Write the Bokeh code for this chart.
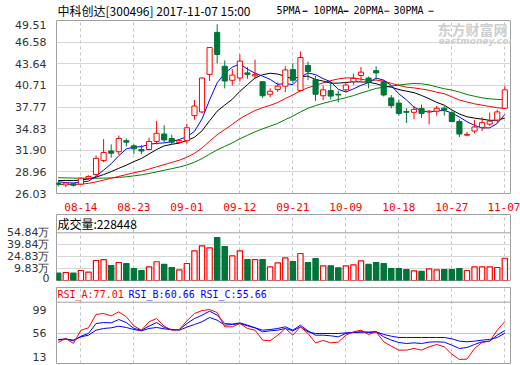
from bokeh.plotting import figure
from bokeh.layouts import column
from bokeh.models import FixedTicker, Label, Span, ColumnDataSource, Range1d
from bokeh.embed import file_html
from bokeh.resources import INLINE

dates = ["08-09", "08-10", "08-11", "08-14", "08-15", "08-16", "08-17", "08-18", "08-21", "08-22",
         "08-23", "08-24", "08-25", "08-28", "08-29", "08-30", "08-31", "09-01", "09-04", "09-05",
         "09-06", "09-07", "09-08", "09-11", "09-12", "09-13", "09-14", "09-15", "09-18", "09-19",
         "09-20", "09-21", "09-22", "09-25", "09-26", "09-27", "09-28", "09-29", "10-09", "10-10",
         "10-11", "10-12", "10-13", "10-16", "10-17", "10-18", "10-19", "10-20", "10-23", "10-24",
         "10-25", "10-26", "10-27", "10-30", "10-31", "11-01", "11-02", "11-03", "11-06", "11-07"]

opens = [27.45, 27.2, 27.35, 27.3, 28.1, 28.6, 30.5, 31.8, 31.7, 33.2,
         32.5, 32.0, 32.0, 33.1, 34.1, 33.5, 32.95, 33.2, 36.6, 37.1,
         42.2, 47.9, 43.3, 41.4, 41.7, 42.4, 42.0, 41.2, 39.5, 40.15,
         40.6, 42.85, 40.0, 43.4, 41.5, 39.3, 40.0, 39.5, 40.1, 41.2,
         42.05, 41.7, 42.7, 41.2, 39.0, 38.3, 37.15, 37.05, 37.55, 37.1,
         37.2, 37.6, 37.0, 35.8, 33.95, 34.5, 35.0, 35.45, 36.0, 37.6]
highs = [27.6, 27.6, 27.45, 28.2, 28.5, 31.2, 33.4, 32.7, 33.9, 33.5,
         32.7, 32.6, 33.6, 35.9, 35.3, 34.0, 33.3, 35.5, 38.7, 41.8,
         45.9, 49.0, 44.1, 42.9, 44.9, 43.2, 44.2, 41.3, 40.3, 41.1,
         43.3, 43.7, 45.3, 43.9, 42.0, 40.7, 41.2, 40.0, 41.2, 42.3,
         43.2, 41.9, 43.3, 41.4, 39.4, 38.8, 37.6, 37.9, 38.1, 37.35,
         37.9, 37.9, 37.2, 36.1, 34.4, 36.0, 36.4, 37.0, 37.4, 40.6]
lows = [27.0, 26.9, 26.95, 27.2, 27.9, 28.3, 30.3, 30.9, 31.3, 32.4,
        31.4, 31.4, 31.9, 32.7, 33.0, 32.6, 32.8, 32.8, 36.05, 36.9,
        41.3, 43.7, 40.3, 40.7, 41.2, 41.6, 41.6, 39.0, 39.1, 39.8,
        39.8, 41.0, 39.9, 41.4, 38.6, 38.7, 38.8, 38.4, 39.8, 40.8,
        41.3, 40.3, 41.5, 39.2, 37.6, 36.6, 35.6, 36.1, 36.3, 35.4,
        36.6, 36.6, 35.7, 33.7, 33.8, 34.2, 34.5, 35.2, 35.6, 37.5]
closes = [27.25, 27.45, 27.15, 28.1, 28.35, 30.8, 31.6, 31.5, 33.5, 33.0,
          32.1, 31.8, 33.1, 34.2, 33.3, 33.0, 33.2, 34.95, 37.9, 41.7,
          45.85, 44.9, 41.3, 42.1, 44.0, 42.2, 42.2, 39.3, 39.9, 40.6,
          42.8, 41.4, 44.5, 42.6, 39.5, 40.1, 39.25, 39.4, 40.75, 41.65,
          42.5, 41.15, 42.4, 39.4, 37.95, 36.9, 37.05, 37.45, 36.9, 37.2,
          37.6, 37.35, 35.8, 34.1, 34.05, 35.05, 35.65, 35.85, 37.1, 40.1]

ma5 = [27.64, 27.5, 27.46, 27.6, 27.7, 28.37, 29.2, 30.07, 31.15, 32.08,
       32.34, 32.38, 32.7, 32.84, 32.9, 33.08, 33.36, 33.73, 34.47, 36.15,
       38.72, 41.06, 42.33, 43.17, 43.63, 42.9, 42.36, 41.96, 41.52, 40.84,
       40.96, 40.8, 41.84, 42.38, 42.16, 41.62, 41.19, 40.17, 39.8, 40.23,
       40.71, 41.09, 41.69, 41.42, 40.68, 39.56, 38.74, 37.75, 37.25, 37.1,
       37.24, 37.3, 36.97, 36.41, 35.78, 35.27, 34.93, 34.94, 35.54, 36.75]
ma10 = [27.8, 27.8, 27.78, 27.85, 28.0, 28.25, 28.6, 29.0, 29.45, 29.87,
        30.36, 30.79, 31.39, 32.0, 32.49, 32.71, 32.87, 33.22, 33.66, 34.53,
        35.9, 37.21, 38.03, 38.82, 39.89, 40.81, 41.71, 42.15, 42.35, 42.24,
        41.93, 41.58, 41.9, 41.95, 41.5, 41.29, 41.0, 41.01, 41.09, 41.2,
        41.17, 41.14, 40.93, 40.61, 40.46, 40.14, 39.92, 39.72, 39.34, 38.89,
        38.4, 38.02, 37.36, 36.83, 36.44, 36.26, 36.12, 35.96, 35.98, 36.27]
ma20 = [27.25, 27.25, 27.25, 27.3, 27.4, 27.6, 27.85, 28.1, 28.35, 28.6,
        28.85, 29.05, 29.35, 29.65, 29.95, 30.25, 30.55, 30.95, 31.48, 32.2,
        33.13, 34.0, 34.71, 35.41, 36.19, 36.76, 37.29, 37.68, 38.0, 38.38,
        38.92, 39.4, 39.97, 40.39, 40.7, 41.05, 41.35, 41.58, 41.72, 41.72,
        41.55, 41.36, 41.42, 41.28, 40.98, 40.71, 40.46, 40.36, 40.21, 40.04,
        39.78, 39.58, 39.15, 38.72, 38.45, 38.2, 38.02, 37.84, 37.66, 37.58]
ma30 = [28.18, 28.15, 28.12, 28.1, 28.1, 28.1, 28.12, 28.15, 28.22, 28.3,
        28.42, 28.56, 28.74, 28.96, 29.18, 29.4, 29.62, 29.9, 30.27, 30.77,
        31.37, 31.95, 32.42, 32.9, 33.45, 33.93, 34.4, 34.8, 35.18, 35.54,
        36.06, 36.53, 37.1, 37.59, 37.96, 38.27, 38.53, 38.79, 39.03, 39.32,
        39.67, 39.98, 40.29, 40.46, 40.62, 40.75, 40.87, 40.96, 40.92, 40.77,
        40.5, 40.25, 40.06, 39.8, 39.47, 39.23, 39.01, 38.89, 38.8, 38.78]

volumes = [4.0, 4.9, 4.0, 7.4, 5.3, 20.0, 21.2, 13.7, 17.5, 16.2,
           9.9, 7.4, 12.1, 18.4, 15.0, 11.2, 8.3, 16.2, 32.2, 38.5,
           36.0, 48.9, 37.6, 25.9, 32.2, 21.2, 21.2, 21.2, 12.1, 17.1,
           23.4, 18.7, 28.8, 17.5, 22.5, 13.3, 13.3, 10.8, 13.3, 14.6,
           19.6, 15.0, 17.5, 16.2, 9.9, 9.9, 8.7, 7.0, 6.2, 9.5,
           8.3, 8.7, 8.7, 9.9, 7.4, 12.1, 12.1, 12.1, 11.2, 22.84]

rsi_a = [38.7, 46, 37, 61, 65.5, 90, 91.7, 87.4, 94.7, 85.6,
         69, 61.2, 76.5, 82.5, 68.5, 61.2, 62.4, 78.3, 91.7, 97,
         99, 93.5, 67.3, 67.3, 73.4, 64.3, 61.2, 43, 41.7, 52,
         64.3, 52, 67.3, 55, 38, 42.3, 38, 39.3, 52, 58.2,
         61.2, 53.3, 58.2, 39.9, 32, 24.7, 24.7, 27.7, 24.7, 30.8,
         35, 30.8, 17.3, 7.6, 8.2, 27.7, 38.7, 41, 61.2, 77.01]
rsi_b = [43.0, 45.4, 41.7, 50.2, 55.1, 73.4, 75.2, 74.6, 80.7, 75.2,
         64.3, 61.2, 68.5, 75.2, 66.1, 62.4, 62.4, 73.4, 82.5, 88.6,
         96, 88.6, 73.4, 72.2, 74.6, 70.4, 65.5, 61.2, 62.4, 64.3,
         67.3, 61.2, 70.4, 60, 52, 52, 50.9, 49, 55.1, 57,
         58.2, 57, 58.2, 49, 43, 38.7, 36.8, 38, 36.8, 39.3,
         39.9, 39.3, 33.8, 27.7, 29.5, 35, 39.9, 41.1, 52, 60.66]
rsi_c = [44.2, 44.8, 43, 49, 52, 61.2, 64.3, 65.5, 68.5, 66.1,
         62.4, 60, 64.3, 66.1, 63.7, 61.8, 61.2, 66.7, 71.6, 76.5,
         84.4, 79.5, 70.4, 71.6, 73.4, 69.1, 65.5, 58.2, 60, 61.2,
         64.3, 60, 67.3, 58.2, 55.1, 55.1, 55.1, 55.1, 56.3, 57,
         57.6, 57.6, 58.2, 53.3, 50.2, 47.8, 47.8, 47.8, 47.8, 47.8,
         47.8, 47.8, 45.4, 41.1, 39.9, 41.1, 43, 44.2, 47.8, 55.66]

price_ticks = [26.03, 28.96, 31.90, 34.83, 37.77, 40.71, 43.64, 46.58, 49.51]
vol_ticks = [-5.17, 9.83, 24.83, 39.84, 54.84]
vol_tick_labels = ["0", "9.83万", "24.83万", "39.84万", "54.84万"]
rsi_ticks = [13, 56, 99]
date_tick_labels = ["08-14", "08-23", "09-01", "09-12", "09-21", "10-09", "10-18", "10-27", "11-07"]

title_text = "中科创达[300496] 2017-11-07 15:00"
vol_header = "成交量:228448"
ma_names = ["5PMA", "10PMA", "20PMA", "30PMA"]
rsi_names = ["RSI_A:77.01", "RSI_B:60.66", "RSI_C:55.66"]

RED = "#ff0000"
GREEN = "#00753a"
BLUE = "#0000ff"
FRAME = "#a0a0a0"
GRID = "#d6d6d6"
VGRID = "#c4c4c4"
TXT = "#333333"

W = 520
LEFT, RIGHT = 56, 10
XR = (-0.225, 59.75)

xs = list(range(len(dates)))
date_idx = [dates.index(d) for d in date_tick_labels]
up = [c >= o for o, c in zip(opens, closes)]
col = [RED if u else GREEN for u in up]
fill = ["white" if u else GREEN for u in up]

src = ColumnDataSource(dict(
    x=xs, h=highs, l=lows,
    top=[max(o, c) for o, c in zip(opens, closes)],
    bot=[min(o, c) for o, c in zip(opens, closes)],
    vol=[v for v in volumes],
    color=col, fill=fill,
    ma5=ma5, ma10=ma10, ma20=ma20, ma30=ma30,
    ra=rsi_a, rb=rsi_b, rc=rsi_c))


def make_fig(height, yr, top, bottom):
    p = figure(width=W, height=height, x_range=Range1d(*XR), y_range=Range1d(*yr),
               output_backend="svg", toolbar_location=None, title=None,
               min_border_left=LEFT, min_border_right=RIGHT,
               min_border_top=top, min_border_bottom=bottom)
    p.outline_line_color = FRAME
    p.outline_line_width = 1
    p.background_fill_color = "white"
    p.border_fill_color = "white"
    p.xgrid.ticker = FixedTicker(ticks=date_idx)
    p.xgrid.grid_line_color = VGRID
    p.xgrid.grid_line_dash = "3 3"
    p.ygrid.grid_line_color = GRID
    for ax in p.yaxis:
        ax.axis_line_color = None
        ax.major_tick_line_color = None
        ax.minor_tick_line_color = None
        ax.major_label_text_font = "DejaVu Sans"
        ax.major_label_text_font_size = "11px"
        ax.major_label_text_color = TXT
        ax.major_label_standoff = 4
    return p


def px_mapper(yr, frame_top, frame_h):
    def fx(px):
        return XR[0] + (px - LEFT) * (XR[1] - XR[0]) / (W - LEFT - RIGHT)

    def fy(py):
        return yr[1] - (py - frame_top) * (yr[1] - yr[0]) / frame_h
    return fx, fy


# ---------- header strip (title + MA legend) ----------
p0 = figure(width=W, height=20, x_range=Range1d(LEFT, W - RIGHT), y_range=Range1d(20, 0),
            output_backend="svg", toolbar_location=None, title=None,
            min_border_left=LEFT, min_border_right=RIGHT, min_border_top=0, min_border_bottom=0)
p0.xaxis.visible = False
p0.yaxis.visible = False
p0.grid.visible = False
p0.outline_line_color = None
p0.add_layout(Label(x=57, y=10, text=title_text, text_font="Noto Sans CJK SC",
                    text_font_size="12px", text_color="black", text_baseline="middle"))
ma_cols = [BLUE, "black", RED, "#008000"]
name_px = [276, 313, 353, 393]
bar_px = [302, 343, 384, 428]
for nm, c, npx, bpx in zip(ma_names, ma_cols, name_px, bar_px):
    p0.add_layout(Label(x=npx, y=10, text=nm, text_font="DejaVu Sans Mono",
                        text_font_size="10px", text_color="black", text_baseline="middle"))
    p0.add_layout(Label(x=bpx, y=10.5, text="━", text_font="DejaVu Sans Mono",
                        text_font_size="8px", text_color=c, text_baseline="middle"))

# ---------- main price panel ----------
YR1 = (price_ticks[0], price_ticks[-1])
p1 = make_fig(193, YR1, 0, 17)
p1.yaxis.ticker = FixedTicker(ticks=price_ticks)
p1.yaxis.major_label_overrides = {t: f"{t:.2f}" for t in price_ticks}
p1.ygrid.ticker = FixedTicker(ticks=price_ticks)
p1.xaxis.ticker = FixedTicker(ticks=date_idx)
p1.xaxis.major_label_overrides = {i: d for i, d in zip(date_idx, date_tick_labels)}
p1.xaxis.axis_line_color = None
p1.xaxis.major_tick_line_color = None
p1.xaxis.minor_tick_line_color = None
p1.xaxis.major_label_text_color = RED
p1.xaxis.major_label_text_font = "DejaVu Sans Mono"
p1.xaxis.major_label_text_font_size = "11px"
p1.xaxis.major_label_standoff = 3

fx1, fy1 = px_mapper(YR1, 0, 176)
p1.add_layout(Label(x=fx1(437), y=fy1(9), text="东方财富网", text_font="Noto Sans CJK SC",
                    text_font_style="bold", text_font_size="14px", text_color="#cfcfcf",
                    text_baseline="middle", level="underlay"))
p1.add_layout(Label(x=fx1(438), y=fy1(20.5), text="eastmoney.com", text_font="DejaVu Sans",
                    text_font_style="bold italic", text_font_size="9px", text_color="#cfcfcf",
                    text_baseline="middle", level="underlay"))

p1.line("x", "ma30", source=src, color="#008000", line_width=1)
p1.line("x", "ma20", source=src, color=RED, line_width=1)
p1.line("x", "ma10", source=src, color="black", line_width=1)
p1.line("x", "ma5", source=src, color=BLUE, line_width=1)
p1.segment(x0="x", y0="l", x1="x", y1="h", color="color", source=src, line_width=1)
p1.vbar(x="x", width=0.68, top="top", bottom="bot", fill_color="fill",
        line_color="color", line_width=1, source=src)

# ---------- volume panel ----------
YR2 = (vol_ticks[0], 77.9)
p2 = make_fig(71, YR2, 1, 4)
p2.xaxis.visible = False
p2.yaxis.ticker = FixedTicker(ticks=vol_ticks)
p2.yaxis.major_label_overrides = {t: s for t, s in zip(vol_ticks, vol_tick_labels)}
p2.yaxis.major_label_standoff = 1
p2.ygrid.ticker = FixedTicker(ticks=vol_ticks[1:-1])
p2.add_layout(Span(location=vol_ticks[-1], dimension="width", line_color=FRAME, line_width=1))
p2.vbar(x="x", width=0.7, top="vol", bottom=vol_ticks[0], fill_color="fill",
        line_color="color", line_width=1.2, source=src)
fx2, fy2 = px_mapper(YR2, 1, 66)
p2.add_layout(Label(x=fx2(57), y=fy2(10.3), text=vol_header, text_font="Noto Sans CJK SC",
                    text_font_size="12px", text_color="black", text_baseline="middle"))

# ---------- RSI panel ----------
YR3 = (0.2, 139.3)
p3 = make_fig(81, YR3, 3, 2)
p3.xaxis.visible = False
p3.yaxis.ticker = FixedTicker(ticks=rsi_ticks)
p3.ygrid.ticker = FixedTicker(ticks=[56])
p3.ygrid.grid_line_color = "#c8c8c8"
fx3, fy3 = px_mapper(YR3, 3, 76)
p3.add_layout(Span(location=fy3(17.7), dimension="width", line_color=FRAME, line_width=1))
p3.line("x", "rc", source=src, color=BLUE, line_width=1)
p3.line("x", "rb", source=src, color=BLUE, line_width=1)
p3.line("x", "ra", source=src, color=RED, line_width=1)
rsi_cols = [RED, BLUE, BLUE]
rsi_px = [57, 128, 200]
for nm, c, rpx in zip(rsi_names, rsi_cols, rsi_px):
    p3.add_layout(Label(x=fx3(rpx), y=fy3(10), text=nm, text_font="DejaVu Sans Mono",
                        text_font_size="10px", text_color=c, text_baseline="middle"))

layout = column(p0, p1, p2, p3, spacing=0)
open("out.html", "w").write(file_html(layout, INLINE))
